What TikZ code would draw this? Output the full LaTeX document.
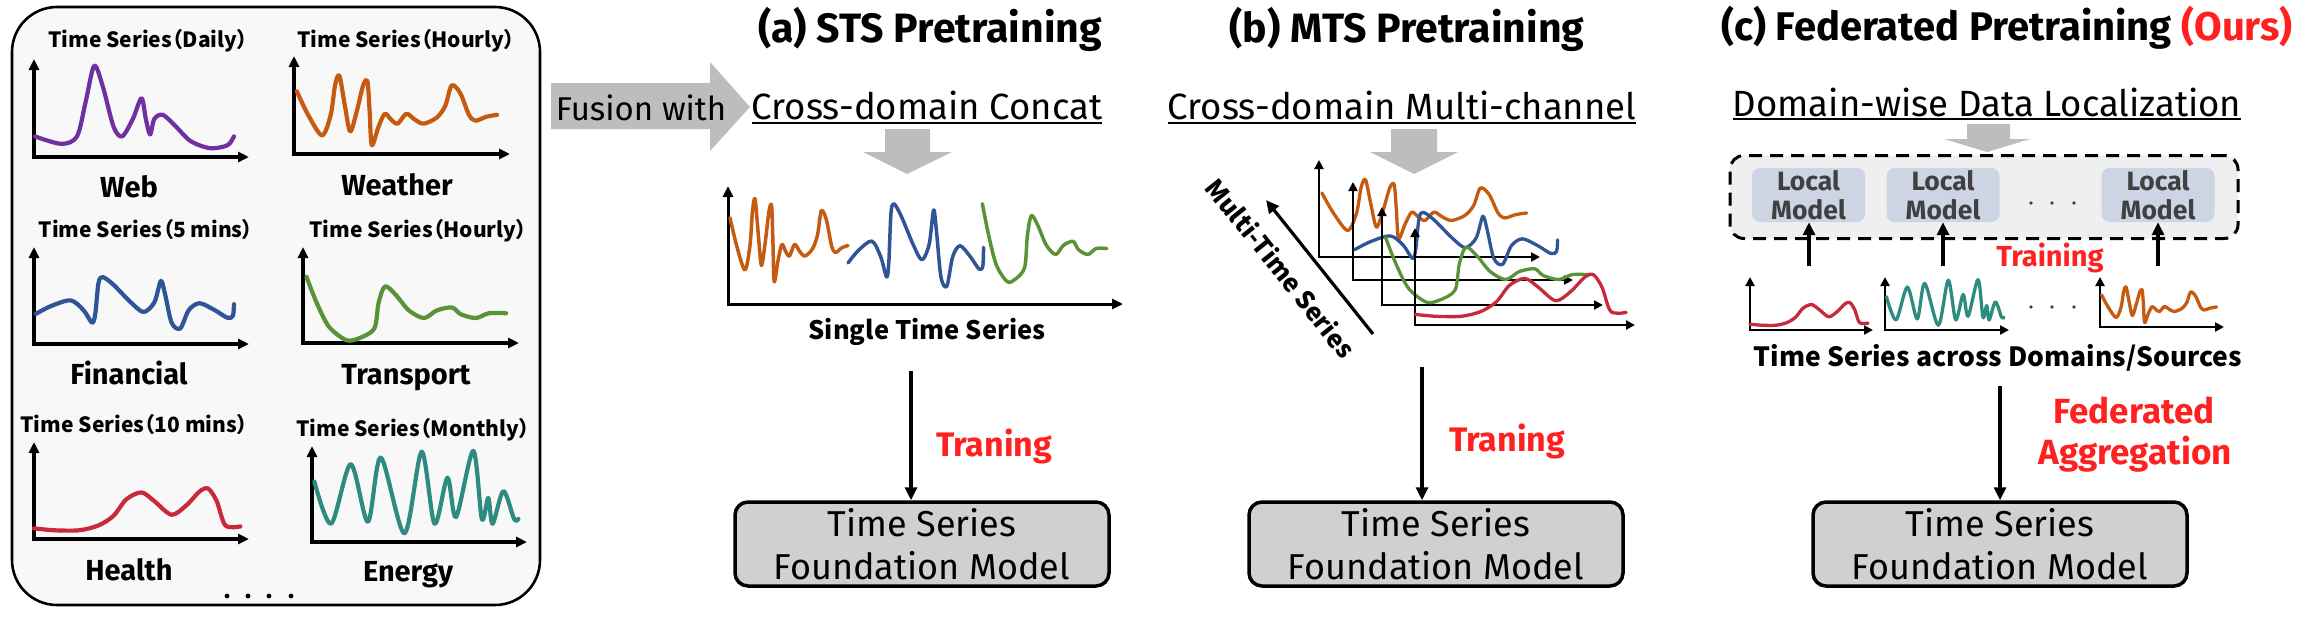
\documentclass[tikz,border=0pt]{standalone}
\usepackage{fontspec}
\setmainfont{Fira Sans}
\newfontfamily\cjk{Noto Sans CJK SC}[RawFeature=+palt]
\usetikzlibrary{arrows.meta}
\definecolor{cPurple}{HTML}{7030A0}
\definecolor{cOrange}{HTML}{C55A11}
\definecolor{cBlue}{HTML}{2F5597}
\definecolor{cGreen}{HTML}{5A9238}
\definecolor{cRed}{HTML}{C8293C}
\definecolor{cTeal}{HTML}{2E8B7F}
\definecolor{arrGray}{HTML}{BDBDBD}
\definecolor{boxGray}{HTML}{D0D0D0}
\definecolor{panelBg}{HTML}{F8F8F8}
\definecolor{localBlue}{HTML}{CDD5E4}
\definecolor{dashBg}{HTML}{EFEFEF}
\definecolor{txtRed}{HTML}{FF2020}
\definecolor{txtGray}{HTML}{404040}
% unit-frame curves (u to the right, v upwards)
\newcommand\cvWeb[1]{\draw[crv,#1] plot[smooth,tension=0.5] coordinates{(0.005,0.21) (0.127,0.134) (0.2,0.21) (0.24,0.56) (0.28,0.93) (0.32,0.72) (0.37,0.31) (0.41,0.21) (0.46,0.39) (0.5,0.6) (0.52,0.39) (0.54,0.23) (0.56,0.39) (0.6,0.43) (0.66,0.31) (0.73,0.16) (0.82,0.09) (0.9,0.12) (0.93,0.21)};}
\newcommand\cvWeather[1]{\draw[crv,#1] plot[smooth,tension=0.5] coordinates{(0.013,0.64) (0.065,0.40) (0.13,0.19) (0.17,0.40) (0.19,0.70) (0.21,0.80) (0.235,0.50) (0.26,0.23) (0.29,0.43) (0.32,0.70) (0.34,0.74) (0.35,0.44) (0.36,0.09) (0.39,0.27) (0.42,0.41) (0.45,0.35) (0.48,0.31) (0.52,0.41) (0.56,0.35) (0.6,0.31) (0.66,0.37) (0.70,0.49) (0.73,0.70) (0.77,0.62) (0.81,0.40) (0.84,0.34) (0.89,0.38) (0.94,0.40)};}
\newcommand\cvFin[1]{\draw[crv,#1] plot[smooth,tension=0.5] coordinates{(0.008,0.31) (0.078,0.39) (0.17,0.45) (0.23,0.35) (0.27,0.22) (0.285,0.31) (0.3,0.63) (0.32,0.69) (0.37,0.61) (0.45,0.43) (0.51,0.33) (0.56,0.43) (0.59,0.65) (0.61,0.51) (0.64,0.22) (0.68,0.16) (0.72,0.35) (0.77,0.42) (0.84,0.35) (0.9,0.27) (0.925,0.29) (0.93,0.41)};}
\newcommand\cvTrans[1]{\draw[crv,#1] plot[smooth,tension=0.5] coordinates{(0.016,0.69) (0.063,0.42) (0.12,0.17) (0.2,0.03) (0.26,0.05) (0.33,0.15) (0.35,0.42) (0.38,0.59) (0.43,0.50) (0.49,0.34) (0.56,0.26) (0.62,0.34) (0.69,0.37) (0.73,0.30) (0.8,0.26) (0.86,0.31) (0.94,0.31)};}
\newcommand\cvHealth[1]{\draw[crv,#1] plot[smooth,tension=0.5] coordinates{(0,0.11) (0.094,0.09) (0.21,0.09) (0.3,0.14) (0.37,0.24) (0.43,0.41) (0.5,0.48) (0.56,0.39) (0.64,0.25) (0.71,0.35) (0.77,0.49) (0.81,0.52) (0.85,0.39) (0.89,0.14) (0.96,0.13)};}
\newcommand\cvEnergy[1]{\draw[crv,#1] plot[smooth,tension=0.5] coordinates{(0.011,0.63) (0.089,0.19) (0.18,0.81) (0.26,0.21) (0.32,0.88) (0.43,0.09) (0.51,0.94) (0.57,0.19) (0.63,0.67) (0.67,0.26) (0.75,0.95) (0.79,0.24) (0.82,0.46) (0.84,0.19) (0.89,0.53) (0.94,0.24) (0.96,0.24)};}
% chart: origin x, origin y, width, height, curve, extra axis options
\newcommand\tschart[6]{%
  \draw[axis,#6] (#1,#2-#4) -- (#1,#2) -- (#1+#3,#2);
  \begin{scope}[shift={(#1,#2)},xscale=#3,yscale=-#4]#5\end{scope}}
% sub frame inside a unit frame: xscale, yscale, u offset, v offset, curve
\newcommand\subcv[5]{\begin{scope}[shift={(#3,#4)},xscale=#1,yscale=#2]#5\end{scope}}
\begin{document}
\begin{tikzpicture}[x=1pt,y=-1pt,
  axis/.style={line width=3.3pt,{Triangle[length=11pt,width=10pt]}-{Triangle[length=11pt,width=10pt]}},
  saxis/.style={line width=2.7pt,{Triangle[length=9pt,width=9pt]}-{Triangle[length=9pt,width=9pt]}},
  crv/.style={line width=4.2pt,line cap=round,line join=round},
  blk/.style={line width=3.2pt,-{Triangle[length=13pt,width=12pt]}},
  garrow/.style={fill=arrGray,draw=none},
  ttl/.style={font=\fontsize{41}{44}\selectfont\bfseries,anchor=base,inner sep=0pt},
  hd/.style={font=\fontsize{36.5}{40}\selectfont,anchor=base,inner sep=0pt},
  cj/.style={font=\cjk\bfseries\fontsize{21}{24}\selectfont,anchor=base,inner sep=0pt},
  cjb/.style={font=\cjk\bfseries\fontsize{25.5}{28}\selectfont,anchor=base,inner sep=0pt},
  lab/.style={font=\fontsize{29}{30}\selectfont\bfseries,anchor=base,inner sep=0pt},
  redt/.style={text=txtRed,font=\fontsize{34}{36}\selectfont\bfseries,anchor=base,inner sep=0pt},
  fm/.style={draw=black,line width=3.5pt,fill=boxGray,rounded corners=13pt,minimum width=374pt,minimum height=84pt,align=center,inner sep=0pt,font=\fontsize{36}{43}\selectfont},
  lbox/.style={fill=localBlue,rounded corners=8pt,minimum width=113pt,minimum height=54pt,align=center,inner sep=0pt,text=txtGray,font=\fontsize{26.5}{29}\selectfont\bfseries},
  dashbox/.style={draw=black,line width=3pt,dash pattern=on 13pt off 8pt,fill=dashBg,rounded corners=14pt,minimum width=508pt,minimum height=83pt,inner sep=0pt}
]
\useasboundingbox (0,0) rectangle (2314,616);
\fill[white] (0,0) rectangle (2314,616);

% ---------------- left panel ----------------
\draw[line width=2.6pt,fill=panelBg,rounded corners=45pt] (12,7) rectangle (540,605);
\tschart{34}{157}{215}{98}{\cvWeb{cPurple}}{}
\tschart{294}{154}{216}{98}{\cvWeather{cOrange}}{}
\tschart{34}{344}{215}{97}{\cvFin{cBlue}}{}
\tschart{303}{343}{216}{96}{\cvTrans{cGreen}}{}
\tschart{34}{539}{215}{97}{\cvHealth{cRed}}{}
\tschart{312}{542}{215}{96}{\cvEnergy{cTeal}}{}
\node[cj] (t1) at (148,47) {Time Series（Daily）};
\node[cj] (t2) at (406,47) {Time Series（Hourly）};
\node[cj] (t3) at (146,237) {Time Series（5 mins）};
\node[cj] (t4) at (418,237) {Time Series（Hourly）};
\node[cj] (t5) at (134,432) {Time Series（10 mins）};
\node[cj] (t6) at (413,436) {Time Series（Monthly）};
\node[lab] (l1w) at (129,197) {Web};
\node[lab] (l2w) at (397,195) {Weather};
\node[lab] (l3w) at (129,384) {Financial};
\node[lab] (l4w) at (406,384) {Transport};
\node[lab] (l5w) at (129,580) {Health};
\node[lab] (l6w) at (408,581) {Energy};
\foreach \xx in {227,248,269,291} \fill (\xx,596) circle (2.4pt);

% ---------------- fusion arrow ----------------
\fill[garrow] (551,83) -- (710,83) -- (710,62) -- (750,107) -- (710,151) -- (710,129) -- (551,129) -- cycle;
\node[anchor=base,inner sep=0pt,font=\fontsize{33}{36}\selectfont] (fus) at (641,120) {Fusion with};

% ---------------- (a) ----------------
\node[ttl] (ta) at (930,42) {(a) STS Pretraining};
\node[hd] (ha) at (927,119) {Cross-domain Concat};
\draw[line width=2.2pt] ([yshift=-4pt]ha.base west) -- ([yshift=-4pt]ha.base east);
\fill[garrow] (885,129) -- (930,129) -- (930,152) -- (952,152) -- (907,174) -- (863,152) -- (885,152) -- cycle;
\draw[axis,line width=3pt] (728,186) -- (728,304) -- (1123,304);
\begin{scope}[shift={(728,304)},xscale=395,yscale=-118]
  \subcv{0.3225}{0.986}{0.0008}{0.101}{\cvWeather{cOrange,line width=3.5pt}}
  \subcv{0.372}{1.32}{0.301}{-0.061}{\cvFin{cBlue,line width=3.5pt}}
  \subcv{0.341}{1.0}{0.6385}{0.16}{\cvTrans{cGreen,line width=3.5pt}}
\end{scope}
\node[cjb] (sts) at (927,339) {Single Time Series};
\node[fm] (fa) at (922,544) {Time Series\\Foundation Model};
\coordinate (aa) at (911,371);
\draw[blk] (aa) -- (aa |- fa.north);
\node[redt] (tra) at (994,456) {Traning};

% ---------------- (b) ----------------
\node[ttl] (tb) at (1407,42) {(b) MTS Pretraining};
\node[hd] (hb) at (1402,119) {Cross-domain Multi-channel};
\draw[line width=2.2pt] ([yshift=-4pt]hb.base west) -- ([yshift=-4pt]hb.base east);
\fill[garrow] (1391,129) -- (1437,129) -- (1437,152) -- (1458,152) -- (1414,174) -- (1370,152) -- (1391,152) -- cycle;
\tschart{1319}{257}{221}{97}{\subcv{1}{0.86}{0}{0.11}{\cvWeather{cOrange,line width=3.3pt}}}{saxis}
\tschart{1353}{280}{220}{98}{\cvFin{cBlue,line width=3.3pt}}{saxis}
\tschart{1382}{305}{221}{98}{\cvTrans{cGreen,line width=3.3pt}}{saxis}
\tschart{1415}{325}{220}{97}{\cvHealth{cRed,line width=3.3pt}}{saxis}
\node[cj,font=\cjk\bfseries\fontsize{25}{28}\selectfont,rotate=-51.3,anchor=center] (mts) at (1281,268) {Multi-Time Series};
\coordinate (d1) at (1373,334);
\coordinate (d2) at (1266,200);
\draw[blk] (d1) -- (d2);
\node[fm] (fb) at (1436,544) {Time Series\\Foundation Model};
\coordinate (ba) at (1422,367);
\draw[blk] (ba) -- (ba |- fb.north);
\node[redt] (trb) at (1507,451) {Traning};

% ---------------- (c) ----------------
\node[ttl,font=\fontsize{40}{44}\selectfont\bfseries] (tc) at (2007,40) {(c) Federated Pretraining {\color{txtRed}(Ours)}};
\node[hd] (hc) at (1987,116) {Domain-wise Data Localization};
\draw[line width=2.2pt] ([yshift=-3pt]hc.base west) -- ([yshift=-3pt]hc.base east);
\fill[garrow] (1967,124) -- (2010,124) -- (2010,139) -- (2030,139) -- (1987,152) -- (1944,139) -- (1967,139) -- cycle;
\node[dashbox] (dc) at (1984,197) {};
\node[lbox] (lm1) at (1808.5,195) {Local\\Model};
\node[lbox] (lm2) at (1943,195) {Local\\Model};
\node[lbox] (lm3) at (2158,195) {Local\\Model};
\foreach \xx in {2031,2052,2074} \fill[txtGray] (\xx,203) circle (1.8pt);
\tschart{1750}{330}{123}{53}{\cvHealth{cRed,line width=3.3pt}}{saxis}
\tschart{1885}{330}{124}{53}{\cvEnergy{cTeal,line width=3.3pt}}{saxis}
\tschart{2100}{327}{124}{50}{\cvWeather{cOrange,line width=3.3pt}}{saxis}
\foreach \xx in {2031,2052,2074} \fill[txtGray] (\xx,307) circle (1.8pt);
\coordinate (u1) at (1809,266);
\coordinate (u2) at (1943,266);
\coordinate (u3) at (2158,266);
\draw[blk] (u1) -- (u1 |- lm1.south);
\draw[blk] (u2) -- (u2 |- lm2.south);
\draw[blk] (u3) -- (u3 |- lm3.south);
\node[redt,font=\fontsize{29}{30}\selectfont\bfseries] (trc) at (2050,266) {Training};
\node[cjb,font=\cjk\bfseries\fontsize{26.5}{28}\selectfont] (tsd) at (1998,366) {Time Series across Domains/Sources};
\node[fm] (fc) at (2000,544) {Time Series\\Foundation Model};
\coordinate (ca) at (2000,386);
\draw[blk] (ca) -- (ca |- fc.north);
\node[redt,font=\fontsize{35}{36}\selectfont\bfseries] (fed1) at (2134,423) {Federated};
\node[redt,font=\fontsize{35}{36}\selectfont\bfseries] (fed2) at (2135,464) {Aggregation};
\end{tikzpicture}
\end{document}
